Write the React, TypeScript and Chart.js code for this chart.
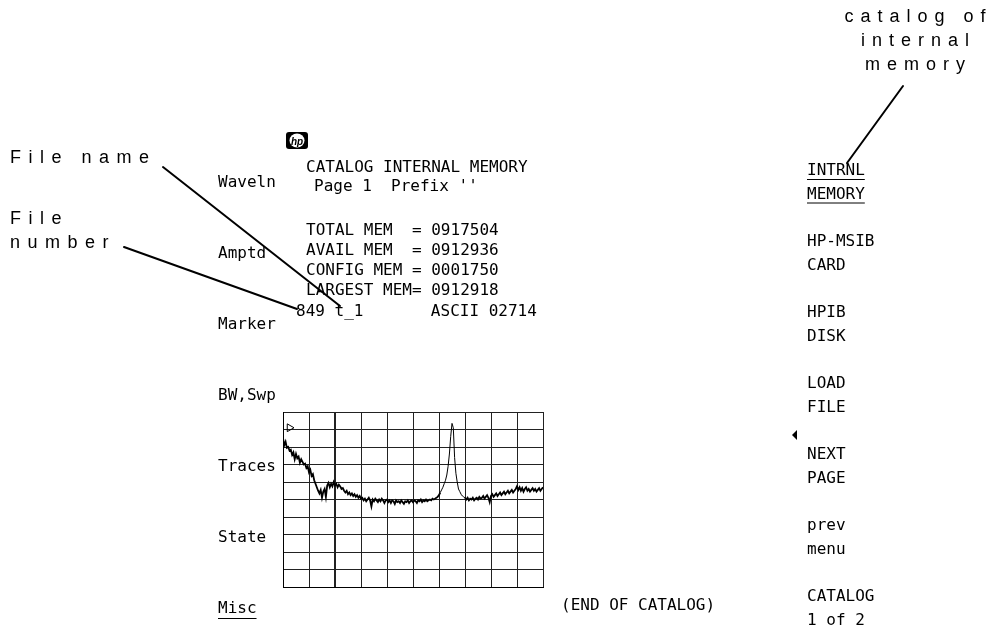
import { useEffect, useRef } from "react";
import { Chart, registerables } from "chart.js";

Chart.register(...registerables);

// ---------- data ----------
// Trace level (graticule divisions above the bottom line), 201 samples across the 10 divisions
const traceLevels = [
  8.5, 8.1, 8.3, 7.95, 8.0, 7.8, 7.85, 7.55, 7.7, 7.3,
  7.6, 7.35, 7.45, 7.1, 7.3, 7.15, 7.0, 7.05, 6.8, 6.9,
  6.55, 6.7, 6.35, 6.45, 6.1, 5.9, 5.7, 5.5, 5.35, 5.55,
  5.1, 5.45, 5.6, 5.15, 5.8, 5.95, 5.7, 5.9, 5.75, 6.0,
  5.8, 5.9, 5.7, 5.85, 5.75, 5.6, 5.65, 5.5, 5.4, 5.5,
  5.3, 5.4, 5.25, 5.35, 5.2, 5.3, 5.15, 5.25, 5.1, 5.2,
  5.05, 5.1, 4.95, 5.05, 4.9, 5.0, 5.1, 4.95, 4.6, 5.0,
  4.9, 5.05, 4.95, 4.85, 5.0, 4.9, 5.05, 4.95, 4.8, 4.95,
  5.0, 4.85, 4.95, 4.8, 4.95, 4.9, 4.75, 4.95, 4.85, 4.9,
  4.8, 4.95, 4.85, 4.75, 4.9, 4.85, 4.95, 4.8, 4.9, 4.95,
  4.85, 4.95, 4.9, 4.8, 4.95, 4.9, 5.0, 4.85, 4.95, 4.9,
  5.0, 4.9, 4.95, 5.0, 4.95, 5.05, 5.0, 5.05, 5.1, 5.15,
  5.25, 5.4, 5.55, 5.7, 5.9, 6.1, 6.4, 6.9, 7.6, 8.6,
  9.35, 9.1, 7.4, 6.5, 6.0, 5.6, 5.45, 5.3, 5.2, 5.15,
  5.1, 5.0, 5.1, 4.95, 5.05, 5.0, 5.1, 4.95, 5.05, 5.1,
  5.0, 5.15, 5.05, 5.1, 5.2, 5.05, 5.15, 5.25, 5.1, 4.85,
  5.2, 5.3, 5.15, 5.25, 5.35, 5.2, 5.3, 5.4, 5.25, 5.35,
  5.45, 5.3, 5.4, 5.5, 5.35, 5.45, 5.55, 5.4, 5.5, 5.6,
  5.75, 5.55, 5.7, 5.5, 5.65, 5.45, 5.6, 5.7, 5.5, 5.6,
  5.45, 5.55, 5.65, 5.5, 5.6, 5.45, 5.55, 5.65, 5.5, 5.6,
  5.7,
];
const peakSamples = [121, 140];
const refMarkerSample = [5];
const refMarkerLevel = [9.1];

const leftSoftkeys = ["Waveln", "Amptd", "Marker", "BW,Swp", "Traces", "State", "Misc"];
const rightSoftkeys = [
  ["INTRNL", "MEMORY"],
  ["HP-MSIB", "CARD"],
  ["HPIB", "DISK"],
  ["LOAD", "FILE"],
  ["NEXT", "PAGE"],
  ["prev", "menu"],
  ["CATALOG", "1 of 2"],
];
const catalogTitle = "CATALOG INTERNAL MEMORY";
const catalogPage = "Page 1  Prefix ''";
const memoryLines = [
  "TOTAL MEM  = 0917504",
  "AVAIL MEM  = 0912936",
  "CONFIG MEM = 0001750",
  "LARGEST MEM= 0912918",
];
const fileEntry = "849 t_1       ASCII 02714";
const endText = "(END OF CATALOG)";
const calloutCatalog = ["catalog of", "internal", "memory"];
const calloutFileName = "File name";
const calloutFileNumber = ["File", "number"];

// ---------- layout ----------
const W = 997;
const H = 635;
const GRID = { left: 283, top: 412, right: 543, bottom: 587 };
const MONO = '16px "DejaVu Sans Mono", "Liberation Mono", monospace';
const SANS = '18px "Liberation Sans", Arial, sans-serif';

function spacedText(ctx: CanvasRenderingContext2D, text: string, x: number, y: number, spacing: number, align: "left" | "center") {
  ctx.font = SANS;
  const chars = Array.from(text);
  const widths = chars.map((c) => ctx.measureText(c).width);
  const total = widths.reduce((a, b) => a + b, 0) + spacing * (chars.length - 1);
  let cx = align === "center" ? x - total / 2 : x;
  ctx.textAlign = "left";
  chars.forEach((c, i) => {
    ctx.fillText(c, cx, y);
    cx += widths[i] + spacing;
  });
}

function line(ctx: CanvasRenderingContext2D, x1: number, y1: number, x2: number, y2: number, w: number) {
  ctx.beginPath();
  ctx.lineWidth = w;
  ctx.moveTo(x1, y1);
  ctx.lineTo(x2, y2);
  ctx.stroke();
}

const screenPlugin = {
  id: "screenText",
  afterDraw(chart: any) {
    const ctx: CanvasRenderingContext2D = chart.ctx;
    ctx.save();
    ctx.fillStyle = "#000";
    ctx.strokeStyle = "#000";
    ctx.textBaseline = "alphabetic";
    ctx.textAlign = "left";

    // left softkeys
    ctx.font = MONO;
    leftSoftkeys.forEach((t, i) => {
      const y = 187 + i * 71;
      ctx.fillText(t, 218, y);
      if (i === leftSoftkeys.length - 1) {
        const w = ctx.measureText(t).width;
        line(ctx, 218, y + 5.5, 218 + w, y + 5.5, 1);
      }
    });

    // right softkeys
    rightSoftkeys.forEach((pair, i) => {
      const y = 175 + i * 71;
      ctx.font = MONO;
      pair.forEach((t, j) => {
        const yy = y + j * 23.5;
        ctx.fillText(t, 807, yy);
        if (i === 0) {
          const w = ctx.measureText(pair[1]).width;
          line(ctx, 807, yy + 4.5, 807 + w, yy + 4.5, 1);
        }
      });
    });

    // small active-key pointer on the right
    ctx.beginPath();
    ctx.moveTo(792, 435);
    ctx.lineTo(797, 430);
    ctx.lineTo(797, 440);
    ctx.closePath();
    ctx.fill();

    // hp logo
    ctx.beginPath();
    const lx = 286, ly = 132, lw = 22, lh = 17;
    ctx.roundRect(lx, ly, lw, lh, 3);
    ctx.fill();
    ctx.fillStyle = "#fff";
    ctx.beginPath();
    ctx.ellipse(lx + lw / 2, ly + lh / 2, 7.5, 7, 0, 0, Math.PI * 2);
    ctx.fill();
    ctx.fillStyle = "#000";
    ctx.font = 'italic bold 10px "Liberation Sans", Arial, sans-serif';
    ctx.textAlign = "center";
    ctx.fillText("hp", lx + lw / 2, ly + 12.5);
    ctx.textAlign = "left";

    // catalog listing
    ctx.font = MONO;
    ctx.fillText(catalogTitle, 306, 172);
    ctx.fillText(catalogPage, 314, 191);
    memoryLines.forEach((t, i) => ctx.fillText(t, 306, 235 + i * 20));
    ctx.fillText(fileEntry, 296, 316);
    ctx.fillText(endText, 561, 610);

    // callouts
    calloutCatalog.forEach((t, i) => spacedText(ctx, t, 915, 22 + i * 24, 7, "center"));
    spacedText(ctx, calloutFileName, 10, 163, 7.5, "left");
    calloutFileNumber.forEach((t, i) => spacedText(ctx, t, 10, 224 + i * 24, 7.5, "left"));

    ctx.lineCap = "round";
    line(ctx, 903, 86, 847, 163, 2);
    line(ctx, 163, 167, 340, 306, 2);
    line(ctx, 124, 247, 297, 309, 2);

    ctx.restore();
  },
};

export default function App() {
  const canvasRef = useRef<HTMLCanvasElement | null>(null);

  useEffect(() => {
    document.body.style.margin = "0";
    const canvas = canvasRef.current;
    if (!canvas) return;
    const inPeak = (i: number) => i >= peakSamples[0] && i < peakSamples[1];
    const chart = new Chart(canvas, {
      type: "line",
      data: {
        datasets: [
          {
            label: "trace",
            data: traceLevels.map((v, i) => ({ x: i, y: v })),
            borderColor: "#000",
            borderWidth: 1.8,
            pointRadius: 0,
            tension: 0,
            fill: false,
            segment: {
              borderWidth: (c: any) => (inPeak(c.p0DataIndex) ? 1 : 1.8),
            },
          },
          {
            label: "ref",
            type: "scatter",
            data: refMarkerSample.map((s, i) => ({ x: s, y: refMarkerLevel[i] })),
            pointStyle: "triangle",
            rotation: 90,
            pointRadius: 4.5,
            borderColor: "#000",
            borderWidth: 1,
            backgroundColor: "rgba(255,255,255,0)",
          },
        ],
      },
      options: {
        animation: false,
        responsive: false,
        devicePixelRatio: 1,
        layout: {
          padding: {
            left: GRID.left,
            top: GRID.top,
            right: W - GRID.right,
            bottom: H - GRID.bottom,
          },
        },
        plugins: {
          legend: { display: false },
          tooltip: { enabled: false },
          title: { display: false },
        },
        scales: {
          x: {
            type: "linear",
            min: 0,
            max: 200,
            ticks: { display: false, stepSize: 20 },
            grid: {
              color: "#222",
              lineWidth: (c: any) => (c.index === 2 ? 2 : 1),
              drawTicks: false,
            },
            border: { display: true, color: "#000", width: 1 },
          },
          y: {
            type: "linear",
            min: 0,
            max: 10,
            ticks: { display: false, stepSize: 1 },
            grid: { color: "#222", lineWidth: 1, drawTicks: false },
            border: { display: true, color: "#000", width: 1 },
          },
        },
      },
      plugins: [screenPlugin],
    });
    return () => chart.destroy();
  }, []);

  return (
    <div style={{ position: "absolute", left: 0, top: 0, width: W, height: H, background: "#fff", overflow: "hidden" }}>
      <canvas ref={canvasRef} width={W} height={H} style={{ display: "block", width: W, height: H }} />
    </div>
  );
}
